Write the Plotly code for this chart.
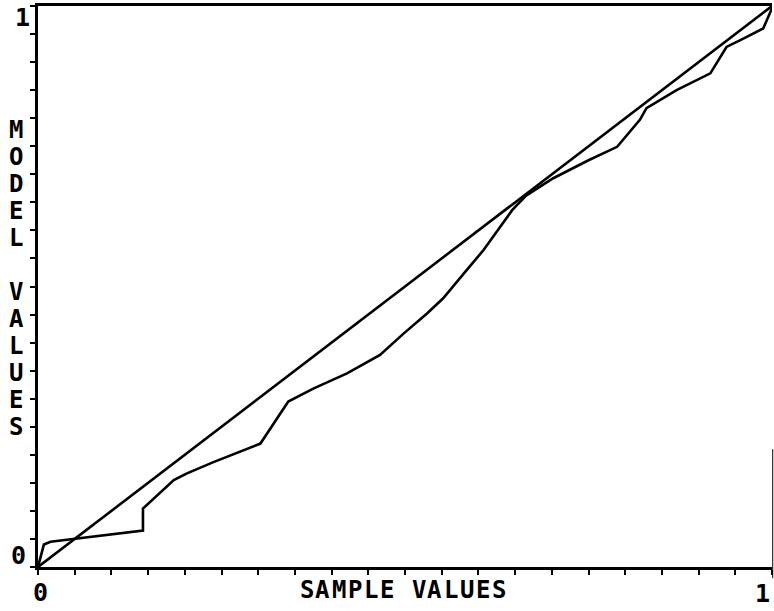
import plotly.graph_objects as go

# Sample (empirical) values against model values
sample_x = [0.0, 0.008, 0.017, 0.135, 0.143, 0.143, 0.185, 0.203, 0.239, 0.303,
            0.341, 0.375, 0.421, 0.466, 0.498, 0.530, 0.552, 0.580, 0.607,
            0.646, 0.665, 0.702, 0.750, 0.789, 0.820, 0.829, 0.870, 0.916,
            0.938, 0.961, 0.988, 1.0]
sample_y = [0.0, 0.040, 0.045, 0.063, 0.065, 0.104, 0.155, 0.167, 0.187, 0.220,
            0.295, 0.318, 0.345, 0.378, 0.416, 0.452, 0.479, 0.523, 0.565,
            0.636, 0.662, 0.693, 0.725, 0.749, 0.797, 0.818, 0.850, 0.880,
            0.927, 0.942, 0.960, 0.996]

# Reference line y = x
ref_x = [0.0, 1.0]
ref_y = [0.0, 1.0]

x_tick_labels = ["0", "1"]
y_tick_labels = ["0", "1"]
x_title = "SAMPLE VALUES"
y_title = "MODEL VALUES"

FONT = "DejaVu Sans Mono"
INK = "black"

fig = go.Figure()
fig.add_trace(go.Scatter(x=ref_x, y=ref_y, mode="lines",
                         line=dict(color=INK, width=2.6), showlegend=False))
fig.add_trace(go.Scatter(x=sample_x, y=sample_y, mode="lines",
                         line=dict(color=INK, width=2.6), showlegend=False))

annotations = []
# tick labels at the ends of each axis
annotations.append(dict(text=f"<b>{x_tick_labels[0]}</b>", x=0, y=0, xref="x", yref="paper",
                        xanchor="center", yanchor="middle", xshift=2, yshift=-25,
                        showarrow=False, font=dict(family=FONT, size=25, color=INK)))
annotations.append(dict(text=f"<b>{x_tick_labels[1]}</b>", x=1, y=0, xref="x", yref="paper",
                        xanchor="center", yanchor="middle", xshift=-10, yshift=-26,
                        showarrow=False, font=dict(family=FONT, size=25, color=INK)))
annotations.append(dict(text=f"<b>{y_tick_labels[0]}</b>", x=0, y=0, xref="paper", yref="y",
                        xanchor="center", yanchor="middle", xshift=-20, yshift=12,
                        showarrow=False, font=dict(family=FONT, size=25, color=INK)))
annotations.append(dict(text=f"<b>{y_tick_labels[1]}</b>", x=0, y=1, xref="paper", yref="y",
                        xanchor="center", yanchor="middle", xshift=-16, yshift=-11,
                        showarrow=False, font=dict(family=FONT, size=25, color=INK)))

# axis titles laid out one letter at a time
step_x = 16
n = len(x_title)
for i, ch in enumerate(x_title):
    if ch == " ":
        continue
    annotations.append(dict(text=f"<b>{ch}</b>", x=0.4966, y=0, xref="paper", yref="paper",
                            xanchor="center", yanchor="middle",
                            xshift=(i - (n - 1) / 2) * step_x, yshift=-23,
                            showarrow=False, font=dict(family=FONT, size=24, color=INK)))

step_y = 27
m = len(y_title)
for i, ch in enumerate(y_title):
    if ch == " ":
        continue
    annotations.append(dict(text=f"<b>{ch}</b>", x=0, y=0.514, xref="paper", yref="paper",
                            xanchor="center", yanchor="middle",
                            xshift=-22, yshift=-(i - (m - 1) / 2) * step_y,
                            showarrow=False, font=dict(family=FONT, size=24, color=INK)))

axis_common = dict(range=[0, 1], showgrid=False, zeroline=False, showline=True,
                   linecolor=INK, linewidth=3, ticks="outside", tickmode="linear",
                   tick0=0, dtick=0.05, ticklen=5, tickwidth=2, tickcolor=INK,
                   showticklabels=False, fixedrange=True)

fig.update_layout(
    width=774, height=611,
    margin=dict(l=38, r=2, t=6, b=44),
    paper_bgcolor="white", plot_bgcolor="white",
    xaxis=dict(**axis_common, mirror=True),
    yaxis=dict(**axis_common),
    annotations=annotations,
    shapes=[dict(type="line", xref="paper", yref="paper", x0=1.001, x1=1.001,
                 y0=0.21, y1=-0.02, line=dict(color=INK, width=1))],
)

fig.write_html("out.html")
